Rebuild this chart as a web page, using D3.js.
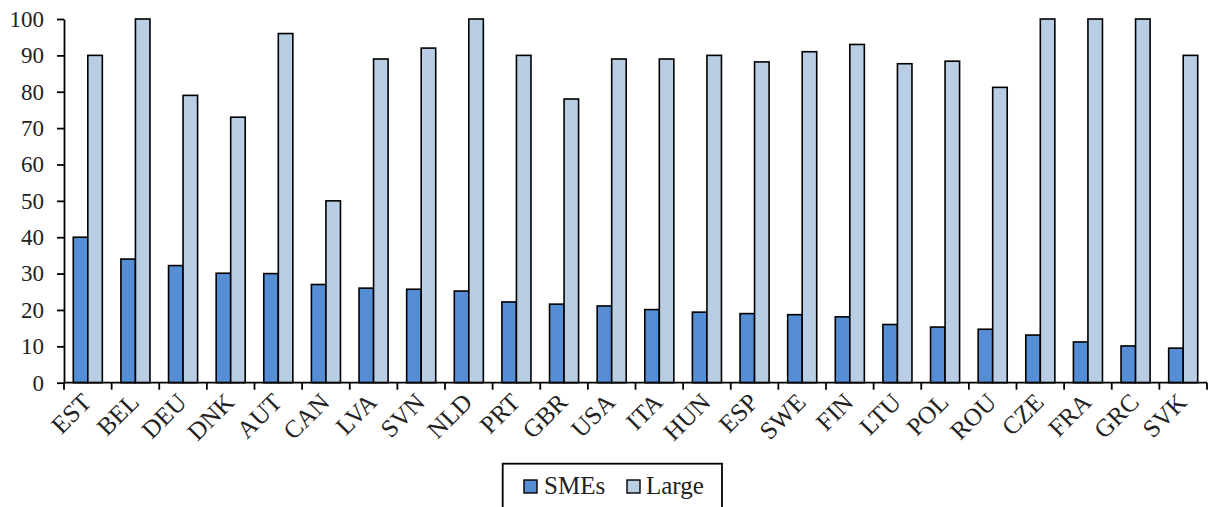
<!DOCTYPE html>
<html>
<head>
<meta charset="utf-8">
<script src="https://cdn.jsdelivr.net/npm/d3@7"></script>
<style>
  html, body { margin: 0; padding: 0; background: #fff; }
  svg { display: block; font-family: "Liberation Serif", "Times New Roman", serif; }
</style>
</head>
<body>
<svg id="chart" width="1210" height="507"></svg>
<script>
// Share of firms (%) by size class and country
const countries = ["EST","BEL","DEU","DNK","AUT","CAN","LVA","SVN","NLD","PRT","GBR","USA",
                   "ITA","HUN","ESP","SWE","FIN","LTU","POL","ROU","CZE","FRA","GRC","SVK"];
const smes  = [40, 34, 32.2, 30.1, 30, 27, 26, 25.7, 25.2, 22.2, 21.6, 21.1,
               20.1, 19.4, 19, 18.7, 18.1, 16, 15.3, 14.7, 13.1, 11.2, 10.1, 9.5];
const large = [90, 100, 79, 73, 96, 50, 89, 92, 100, 90, 78, 89,
               89, 90, 88.2, 91, 93, 87.7, 88.4, 81.2, 100, 100, 100, 90];
const seriesNames = ["SMEs", "Large"];
const yTicks = [0, 10, 20, 30, 40, 50, 60, 70, 80, 90, 100];

const colors = { SMEs: "#558ED5", Large: "#B9CDE5" };

const svg = d3.select("#chart");
const plotLeft = 64, plotRight = 1207, plotTop = 19, plotBottom = 382.7;

const x = d3.scaleBand().domain(countries).range([plotLeft, plotRight]).padding(0);
const y = d3.scaleLinear().domain([0, 100]).range([plotBottom, plotTop]);

const barW = x.bandwidth() * 0.305;
const groupOffset = (x.bandwidth() - 2 * barW) / 2;

// Bars
const seriesData = [smes, large];
seriesData.forEach((vals, si) => {
  svg.append("g")
    .selectAll("rect")
    .data(countries)
    .join("rect")
    .attr("x", (d) => x(d) + groupOffset + si * barW)
    .attr("y", (d, i) => y(vals[i]))
    .attr("width", barW)
    .attr("height", (d, i) => y(0) - y(vals[i]))
    .attr("fill", colors[seriesNames[si]])
    .attr("stroke", "#000")
    .attr("stroke-width", 1.6);
});

// Y axis
const yAxis = svg.append("g")
  .attr("transform", `translate(${plotLeft},0)`)
  .call(d3.axisLeft(y).tickValues(yTicks).tickSize(7).tickPadding(13).tickSizeOuter(0));
yAxis.select(".domain").attr("stroke", "#000").attr("stroke-width", 1.8);
yAxis.selectAll(".tick line").attr("stroke", "#000").attr("stroke-width", 1.8);
yAxis.selectAll(".tick text")
  .attr("font-family", "'Liberation Serif', serif")
  .attr("font-size", 23)
  .attr("fill", "#222");

// X axis line and boundary ticks
const xg = svg.append("g");
xg.append("line")
  .attr("x1", plotLeft).attr("x2", plotRight)
  .attr("y1", y(0)).attr("y2", y(0))
  .attr("stroke", "#000").attr("stroke-width", 1.8);
const boundaries = countries.map((c) => x(c)).concat([plotRight]);
xg.selectAll("line.bt")
  .data(boundaries)
  .join("line")
  .attr("class", "bt")
  .attr("x1", (d) => d).attr("x2", (d) => d)
  .attr("y1", y(0)).attr("y2", y(0) + 7)
  .attr("stroke", "#000").attr("stroke-width", 1.8);

// Category labels, rotated
xg.selectAll("text")
  .data(countries)
  .join("text")
  .attr("transform", (d) => `translate(${x(d) + x.bandwidth() / 2 + 5},${y(0) + 21}) rotate(-45)`)
  .attr("text-anchor", "end")
  .attr("font-size", 25)
  .attr("fill", "#222")
  .text((d) => d);

// Legend
const lg = svg.append("g");
lg.append("rect")
  .attr("x", 502.7).attr("y", 463.7)
  .attr("width", 219.3).attr("height", 60)
  .attr("fill", "#fff").attr("stroke", "#000").attr("stroke-width", 1.8);
const legendItems = [
  { name: "SMEs", sx: 524, tx: 544 },
  { name: "Large", sx: 627, tx: 646 }
];
legendItems.forEach((it) => {
  lg.append("rect")
    .attr("x", it.sx).attr("y", 480)
    .attr("width", 13).attr("height", 13)
    .attr("fill", colors[it.name]).attr("stroke", "#000").attr("stroke-width", 1.4);
  lg.append("text")
    .attr("x", it.tx).attr("y", 494)
    .attr("font-size", 25)
    .attr("fill", "#222")
    .text(it.name);
});
</script>
</body>
</html>
